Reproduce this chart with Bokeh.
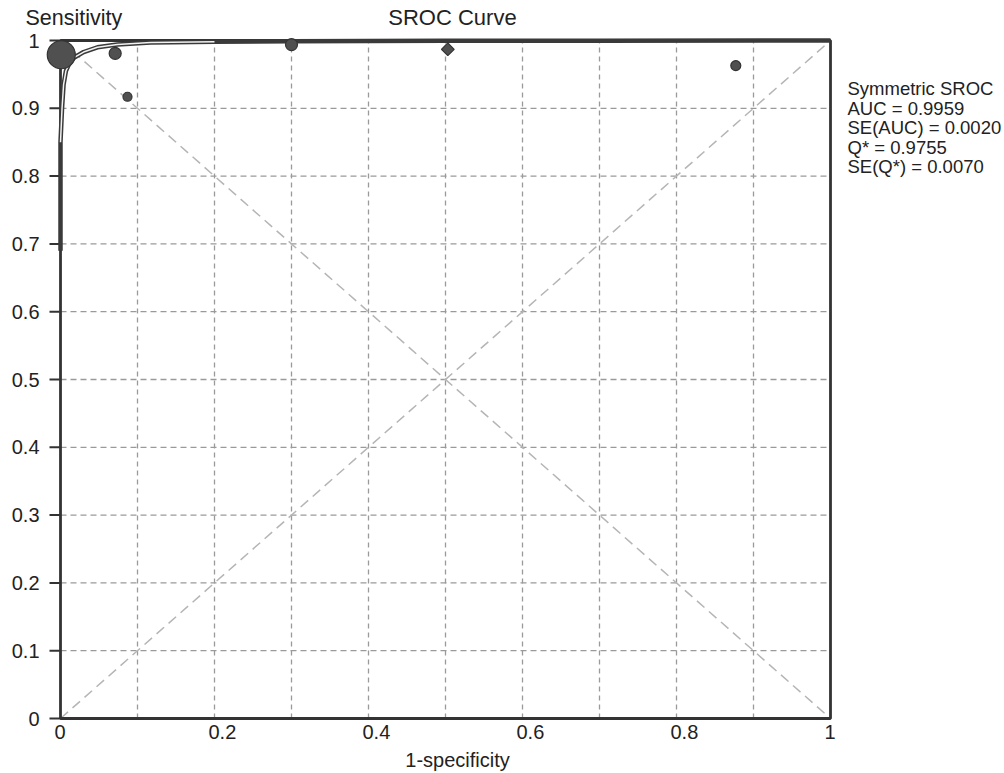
from bokeh.plotting import figure
from bokeh.models import Range1d
from bokeh.core.properties import value
from bokeh.embed import file_html
from bokeh.resources import INLINE

# ---- data ----
study_fpr = [0.001, 0.071, 0.087, 0.300, 0.503, 0.877]
study_tpr = [0.979, 0.981, 0.917, 0.994, 0.987, 0.963]
study_weight = [28, 12, 9, 12, 9, 10]
study_marker = ["circle", "circle", "circle", "circle", "square", "circle"]

curve_fpr = [0.0, 0.0, 0.002, 0.004, 0.007, 0.011, 0.018, 0.030, 0.048, 0.074, 0.117, 0.20, 0.30, 0.50, 0.70, 1.0]
curve_tpr = [0.69, 0.85, 0.90, 0.935, 0.955, 0.965, 0.975, 0.983, 0.990, 0.994, 0.997, 0.998, 0.999, 0.9995, 0.9998, 1.0]

x_ticks = [0, 0.2, 0.4, 0.6, 0.8, 1]
x_tick_labels = ["0", "0.2", "0.4", "0.6", "0.8", "1"]
y_ticks = [0, 0.1, 0.2, 0.3, 0.4, 0.5, 0.6, 0.7, 0.8, 0.9, 1]
y_tick_labels = ["0", "0.1", "0.2", "0.3", "0.4", "0.5", "0.6", "0.7", "0.8", "0.9", "1"]
grid_ticks = [0.1, 0.2, 0.3, 0.4, 0.5, 0.6, 0.7, 0.8, 0.9]

title_text = "SROC  Curve"
y_title_text = "Sensitivity"
x_title_text = "1-specificity"
stats_lines = ["Symmetric SROC", "AUC = 0.9959", "SE(AUC) = 0.0020", "Q* = 0.9755", "SE(Q*) = 0.0070"]

# ---- layout constants (pixels) ----
W, H = 1004, 773
LEFT_PX, TOP_PX = 60, 40           # canvas position of the unit square's upper-left corner
XS, YS = 770.0, 678.0              # pixels per unit on x and y
BOTTOM_PX = H - TOP_PX - YS        # space below the unit square
FONT = "Liberation Sans"
TXT = "#222222"
AX = "#333333"

p = figure(width=W, height=H, output_backend="svg", toolbar_location=None,
           x_range=Range1d(-LEFT_PX / XS, (W - LEFT_PX) / XS),
           y_range=Range1d(-BOTTOM_PX / YS, (H - BOTTOM_PX) / YS),
           x_axis_location=None, y_axis_location=None,
           min_border_left=0, min_border_right=0, min_border_top=0, min_border_bottom=0)
p.center = []
p.background_fill_color = "white"
p.border_fill_color = "white"
p.outline_line_color = None


def dx(px):
    return px / XS


def dy(px):
    return px / YS


def txt(x, y, t, size, align="left", baseline="middle"):
    p.text(x=x, y=y, text=t, text_font=value(FONT), text_font_size=value(size),
           text_color=TXT, text_align=align, text_baseline=baseline)


# grid lines (dashed) inside the unit square
n = len(grid_ticks)
p.segment(x0=grid_ticks, y0=[0] * n, x1=grid_ticks, y1=[1] * n,
          line_color="#9a9a9a", line_width=1.3, line_dash="5 4")
p.segment(x0=[0] * n, y0=grid_ticks, x1=[1] * n, y1=grid_ticks,
          line_color="#9a9a9a", line_width=1.3, line_dash="6 4")

# reference diagonals
p.line([0, 1], [0, 1], line_color="#b5b5b5", line_width=1.5, line_dash="10 6")
p.line([0, 1], [1, 0], line_color="#b5b5b5", line_width=1.5, line_dash="10 6")

# frame of the unit square
p.quad(left=[0], right=[1], bottom=[0], top=[1], fill_color=None,
       line_color=AX, line_width=2.8)

# y axis ticks and labels
m = len(y_ticks)
p.segment(x0=[0] * m, y0=y_ticks, x1=[dx(-11)] * m, y1=y_ticks,
          line_color=AX, line_width=2)
txt([dx(-21)] * m, y_ticks, y_tick_labels, "20px", align="right")

# x axis labels (first digit centred on the tick)
k = len(x_ticks)
txt([t + dx(-6) for t in x_ticks], [dy(-13)] * k, x_tick_labels, "20px", align="left")
txt([dx(457 - LEFT_PX)], [dy(-41)], [x_title_text], "20px", align="center")

# SROC curve (dark outline with light centre)
p.line(curve_fpr, curve_tpr, line_color="#3a3a3a", line_width=4.5)
p.line(curve_fpr[1:12], curve_tpr[1:12], line_color="#f2f2f2", line_width=1.5)

# studies
angles = [0.785398 if mk == "square" else 0 for mk in study_marker]
p.scatter(study_fpr, study_tpr, size=study_weight, marker=study_marker, angle=angles,
          fill_color="#505050", line_color="#333333", line_width=1.2)

# titles
txt([dx(25 - LEFT_PX)], [1 + dy(TOP_PX - 17)], [y_title_text], "21.5px")
txt([dx(455 - LEFT_PX)], [1 + dy(TOP_PX - 17)], [title_text], "22px", align="center")
s = len(stats_lines)
txt([1 + dx(17)] * s, [1 - dy(48 + 19.6 * i) for i in range(s)], stats_lines, "18.5px")

open("out.html", "w").write(file_html(p, INLINE))
